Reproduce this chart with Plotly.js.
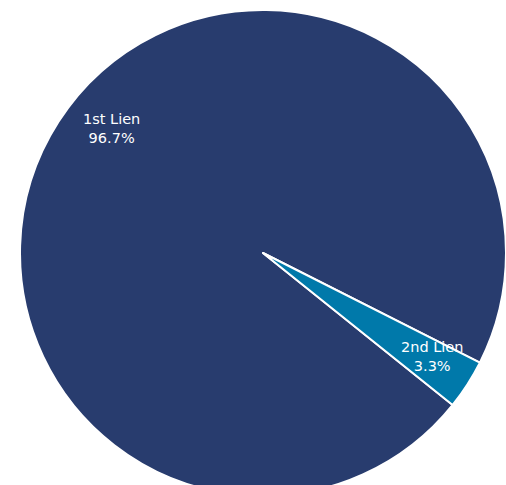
<!DOCTYPE html>
<html><head><meta charset="utf-8">
<script src="https://cdn.plot.ly/plotly-3.0.1.min.js"></script>
<style>html,body{margin:0;padding:0;overflow:hidden;background:#fff;}</style>
</head><body>
<div id="chart"></div>
<script>
const labels = ["1st Lien", "2nd Lien"];
const values = [96.7, 3.3];
const colors = ["#283C6E", "#0079AA"];
const labelPos = [[0.189, 0.757], [0.848, 0.288]];

const total = values.reduce((a, b) => a + b, 0);
const annotations = labels.map((l, i) => ({
  xref: "paper", yref: "paper",
  x: labelPos[i][0], y: labelPos[i][1],
  xanchor: "center", yanchor: "middle",
  text: l + "<br>" + (values[i] / total * 100).toFixed(1) + "%",
  showarrow: false,
  font: {family: "DejaVu Sans", size: 14.5, color: "#ffffff"}
}));

Plotly.newPlot("chart", [{
  type: "pie",
  labels: labels,
  values: values,
  sort: false,
  direction: "clockwise",
  rotation: 128.7,
  marker: {colors: colors, line: {color: "#ffffff", width: 2}},
  textinfo: "none",
  hoverinfo: "none"
}], {
  width: 506, height: 504,
  margin: {l: 20, r: 0, t: 10, b: 8},
  showlegend: false,
  paper_bgcolor: "#ffffff",
  annotations: annotations
}, {displayModeBar: false, staticPlot: true});
</script>
</body></html>
